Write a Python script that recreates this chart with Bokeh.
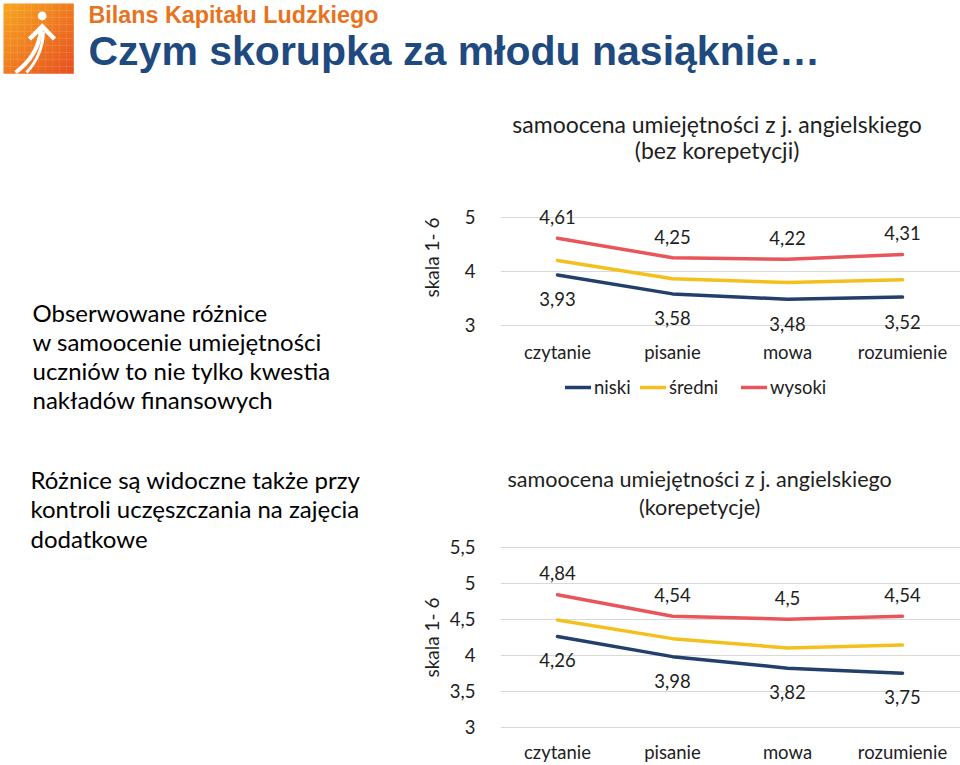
import math
from bokeh.plotting import figure
from bokeh.models import Range1d, FixedTicker, Legend, LegendItem
from bokeh.layouts import column, row
from bokeh.embed import file_html
from bokeh.resources import INLINE
from bokeh.core.properties import value

# ---------------- data ----------------
categories = ["czytanie", "pisanie", "mowa", "rozumienie"]
series_names = ["niski", "średni", "wysoki"]

top_niski = [3.93, 3.58, 3.48, 3.52]
top_sredni = [4.20, 3.86, 3.79, 3.84]
top_wysoki = [4.61, 4.25, 4.22, 4.31]

bot_niski = [4.26, 3.98, 3.82, 3.75]
bot_sredni = [4.49, 4.23, 4.10, 4.14]
bot_wysoki = [4.84, 4.54, 4.50, 4.54]

top_ticks = [3, 4, 5]
bot_ticks = [3, 3.5, 4, 4.5, 5, 5.5]

top_title = ["samoocena umiejętności z j. angielskiego", "(bez korepetycji)"]
bot_title = ["samoocena umiejętności z j. angielskiego", "(korepetycje)"]
y_axis_title = "skala 1- 6"
header_sub = "Bilans Kapitału Ludzkiego"
header_title = "Czym skorupka za młodu nasiąknie…"
para1 = ["Obserwowane różnice", "w samoocenie umiejętności",
         "uczniów to nie tylko kwestia", "nakładów finansowych"]
para2 = ["Różnice są widoczne także przy", "kontroli uczęszczania na zajęcia",
         "dodatkowe"]

# ---------------- style ----------------
FONT = "Lato"
COLORS = ["#233F6C", "#F4C01E", "#E8565B"]
TXT = "#1e1e1e"
GRID = "#D9D9D9"
W, H = 960, 765
SPLIT = 446


def fmt(v):
    return ("%g" % v).replace(".", ",")


def mid(baseline, size, k=0.387):
    # vertical centre of the text box for a given baseline
    return baseline - k * size


def text_canvas(x0, x1, y0, y1):
    p = figure(width=round(x1 - x0), height=round(y1 - y0),
               x_range=Range1d(x0, x1), y_range=Range1d(y1, y0),
               x_axis_location=None, y_axis_location=None,
               toolbar_location=None, output_backend="svg",
               min_border=0, outline_line_color=None)
    p.xgrid.visible = False
    p.ygrid.visible = False
    return p


# ---------------- header ----------------
header = text_canvas(0, W, 0, 95)

n = 20
L0, L1 = 3.0, 73.0
cell = (L1 - L0) / n
qx0, qx1, qy0, qy1, qc = [], [], [], [], []
for i in range(n):
    for j in range(n):
        t = (i + j) / (2 * (n - 1))
        r = int(248 + (231 - 248) * t)
        g = int(166 + (82 - 166) * t)
        b = int(34 + (32 - 34) * t)
        qx0.append(L0 + j * cell)
        qx1.append(L0 + (j + 1) * cell + 0.3)
        qy0.append(L0 + i * cell)
        qy1.append(L0 + (i + 1) * cell + 0.3)
        qc.append("#%02x%02x%02x" % (r, g, b))
header.quad(left=qx0, right=qx1, top=qy0, bottom=qy1, fill_color=qc, line_color=None)

header.circle(x=[41.7], y=[15.5], radius=4.4, fill_color="white", line_color=None)
header.line(x=[29, 41.7, 54], y=[38.5, 26, 38.5],
            line_color="white", line_width=4.5, line_join="miter")
header.quadratic(x0=[40.5, 43], y0=[29, 31], x1=[15, 26], y1=[72, 72],
                 cx=[38, 42], cy=[55, 55], line_color="white", line_width=[4, 3])

header.text(x=[88], y=[mid(22.3, 23.3, 0.347)], text=[header_sub],
            text_font=value("Liberation Sans"), text_font_style="bold",
            text_font_size=value("23.3px"), text_color="#E8731F",
            text_baseline="middle")
header.text(x=[88], y=[mid(64.5, 41, 0.347)], text=[header_title],
            text_font=value("Liberation Sans"), text_font_style="bold",
            text_font_size=value("41px"), text_color="#1F4A80",
            text_baseline="middle")

# ---------------- left text (incl. rotated axis titles) ----------------
left = text_canvas(0, SPLIT, 95, H)
left.text(x=[32] * len(para1), y=[mid(b, 24) for b in [321, 350, 379, 408]],
          text=para1, text_font=value(FONT), text_font_size=value("24px"),
          text_color="#000000", text_baseline="middle")
left.text(x=[30] * len(para2), y=[mid(b, 24) for b in [488, 517.5, 547]],
          text=para2, text_font=value(FONT), text_font_size=value("24px"),
          text_color="#000000", text_baseline="middle")
left.text(x=[431, 431], y=[257, 637], text=[y_axis_title, y_axis_title],
          angle=math.pi / 2, text_font=value(FONT), text_font_size=value("19px"),
          text_color=TXT, text_align="center", text_baseline="middle")

# ---------------- chart titles ----------------
t1 = text_canvas(SPLIT, W, 95, 180)
t1.text(x=[688, 688], y=[mid(132, 23), mid(158, 23)], text=top_title,
        text_font=value(FONT), text_font_size=value("23px"), text_color=TXT,
        text_align="center", text_baseline="middle")
t2 = text_canvas(SPLIT, W, 432, 520)
t2.text(x=[668.5, 668.5], y=[mid(487, 21.6), mid(514.5, 21.6)], text=bot_title,
        text_font=value(FONT), text_font_size=value("21.6px"), text_color=TXT,
        text_align="center", text_baseline="middle")

# ---------------- charts ----------------
FRAME_L = 492
CAT0 = 550
STEP = 117
LEGEND_X = [557, 632, 733]


def chart(fig_top, fig_bottom, frame_top, ref_val, ref_px, ppu, axis_px,
          ticks, niski, sredni, wysoki, up_off, down_off, legend_px=None):
    frame_bottom = fig_bottom
    ystart = ref_val - (frame_bottom - ref_px) / ppu
    yend = ref_val + (ref_px - frame_top) / ppu
    xs = (FRAME_L - CAT0) / STEP
    xe = (W - CAT0) / STEP
    p = figure(width=W - SPLIT, height=fig_bottom - fig_top,
               x_range=Range1d(xs, xe), y_range=Range1d(ystart, yend),
               toolbar_location=None, output_backend="svg",
               min_border_left=FRAME_L - SPLIT, min_border_right=0,
               min_border_top=frame_top - fig_top, min_border_bottom=0,
               outline_line_color=None)
    x = list(range(len(categories)))
    rs = []
    for vals, color in zip([niski, sredni, wysoki], COLORS):
        rs.append(p.line(x, vals, line_color=color, line_width=3.5,
                         line_join="round", line_cap="round"))
    p.text(x, wysoki, text=[fmt(v) for v in wysoki], text_font=value(FONT),
           text_font_size=value("18.5px"), text_color=TXT, text_align="center",
           text_baseline="middle", y_offset=-up_off)
    p.text(x, niski, text=[fmt(v) for v in niski], text_font=value(FONT),
           text_font_size=value("18.5px"), text_color=TXT, text_align="center",
           text_baseline="middle", y_offset=down_off)

    p.xgrid.visible = False
    p.ygrid.ticker = FixedTicker(ticks=ticks)
    p.ygrid.grid_line_color = GRID
    p.ygrid.grid_line_width = 1

    p.xaxis.ticker = FixedTicker(ticks=x)
    p.xaxis.major_label_overrides = {i: c for i, c in enumerate(categories)}
    p.xaxis.fixed_location = ref_val - (axis_px - ref_px) / ppu
    p.yaxis.ticker = FixedTicker(ticks=ticks)
    p.yaxis.major_label_overrides = {t: fmt(t) for t in ticks}
    for ax in (p.xaxis[0], p.yaxis[0]):
        ax.axis_line_color = None
        ax.major_tick_line_color = None
        ax.minor_tick_line_color = None
        ax.major_label_text_font = FONT
        ax.major_label_text_font_size = "18.5px"
        ax.major_label_text_color = TXT
    p.xaxis.major_label_standoff = 0
    p.yaxis.major_label_standoff = 19

    if legend_px is not None:
        for nm, r, lx in zip(series_names, rs, LEGEND_X):
            legend = Legend(items=[LegendItem(label=nm, renderers=[r])],
                            orientation="horizontal",
                            location=(lx - FRAME_L, frame_bottom - legend_px),
                            glyph_width=26, glyph_height=20, label_standoff=3,
                            spacing=0, padding=0, margin=0,
                            border_line_color=None, background_fill_alpha=0,
                            label_text_font=FONT, label_text_font_size="18.5px",
                            label_text_color=TXT)
            p.add_layout(legend)
    return p


c1 = chart(180, 432, 203, 4, 270.7, 54, 334, top_ticks,
           top_niski, top_sredni, top_wysoki, 21, 24.5, legend_px=398)
c2 = chart(520, H, 530, 4, 654.7, 72, 734, bot_ticks,
           bot_niski, bot_sredni, bot_wysoki, 21.5, 24)

layout = column(header, row(left, column(t1, c1, t2, c2)))
open("out.html", "w").write(file_html(layout, INLINE))
